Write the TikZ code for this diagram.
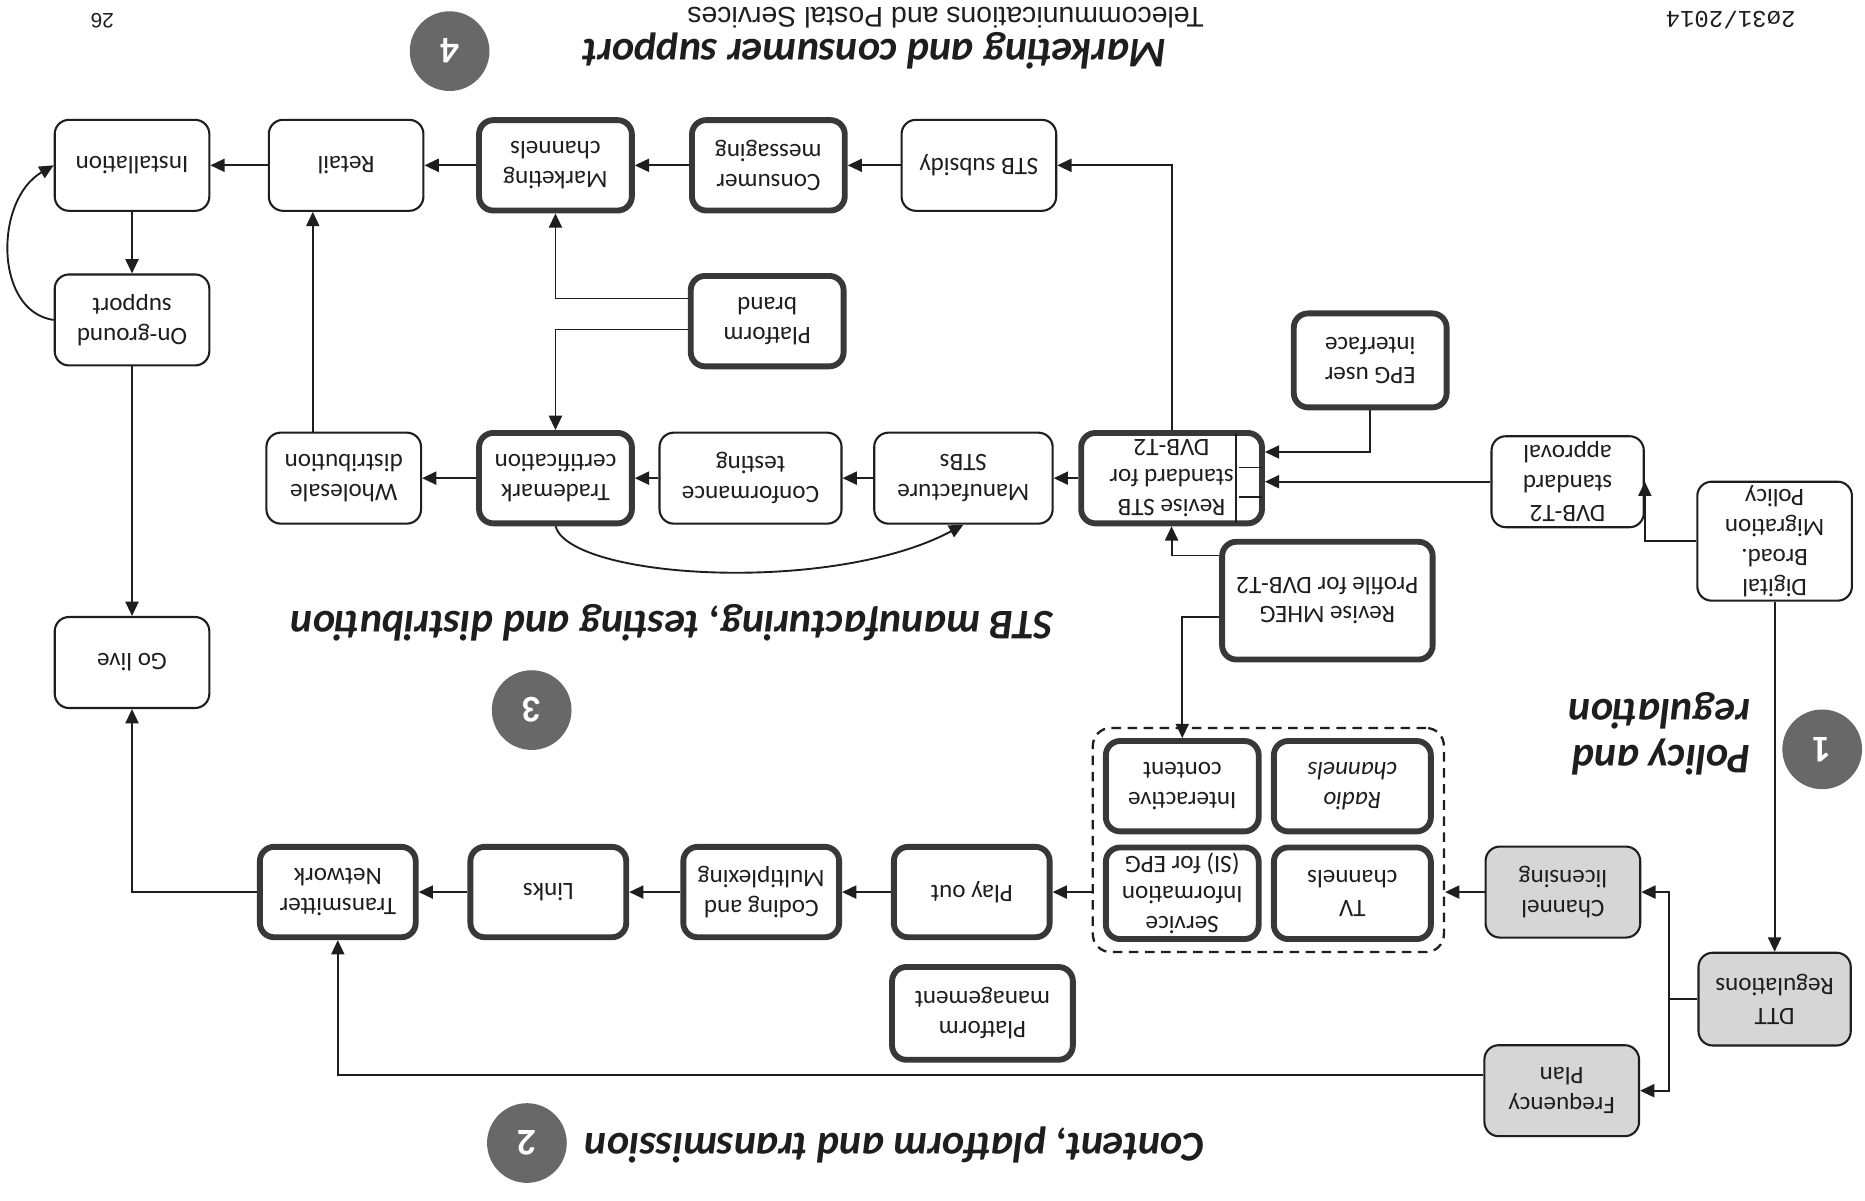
\documentclass[tikz,border=0pt]{standalone}
\usepackage{fontspec}
\setmainfont{Carlito}
\newfontfamily\headfont{Liberation Sans}
\newfontfamily\datefont{Liberation Mono}
\usetikzlibrary{arrows.meta,fit}

\definecolor{ink}{HTML}{1E1E1E}
\definecolor{frame}{HTML}{383838}
\definecolor{shade}{HTML}{D6D6D6}
\definecolor{badgegray}{HTML}{686868}

\tikzset{
  box/.style={draw=ink, line width=1pt, rounded corners=2.4mm, fill=white, text=ink,
    rotate=180, align=center, inner sep=0pt, minimum width=26mm, minimum height=15.3mm,
    font=\fontsize{12}{14.2}\selectfont},
  tbox/.style={box, draw=frame, line width=2.8pt, minimum width=25.7mm, minimum height=15.2mm},
  gbox/.style={box, fill=shade},
  grp/.style={draw=ink, line width=1.1pt, dash pattern=on 1.6mm off 1.1mm, rounded corners=3mm, inner sep=1.7mm},
  badge/.style={circle, fill=badgegray, text=white, rotate=180, minimum size=13.4mm, inner sep=0pt,
    font=\fontsize{18}{18}\selectfont\bfseries},
  stage/.style={rotate=180, text=ink, font=\fontsize{20.2}{22}\selectfont\bfseries\itshape},
  arr/.style={draw=ink, line width=0.9pt, -{Triangle[length=2.4mm,width=2.2mm]}},
  divider/.style={draw=ink, line width=0.8pt, shorten <=1.4pt, shorten >=1.4pt}
}

\begin{document}
\begin{tikzpicture}[x=0.2mm, y=-0.2mm]
% the page is scanned upside down: every node is turned by 180,
% so .north is the lower side and .east the left side of a box
\path[use as bounding box, fill=white] (0,0) rectangle (1568,1009);

% header
\node[rotate=180, text=ink, font=\headfont\fontsize{13.6}{13.6}\selectfont] (hdr) at (795,15) {Telecommunications and Postal Services};
\node[rotate=180, text=ink, font=\headfont\fontsize{10}{10}\selectfont] (pg) at (86,17) {26};
\node[rotate=180, text=ink, font=\datefont\fontsize{11.5}{11.5}\selectfont] (date) at (1455,17) {2\o31/2014};

% stage titles
\node[badge] (n4) at (378,43) {4};
\node[stage] (t4) at (735,43) {Marketing and consumer support};
\node[badge] (n3) at (447,597) {3};
\node[stage] (t3) at (565,524) {STB manufacturing, testing and distribution};
\node[badge] (n2) at (443,961) {2};
\node[stage] (t2) at (752,963) {Content, platform and transmission};
\node[badge] (n1) at (1532,630) {1};
\node[stage, align=left, anchor=west] (t1) at (1478,617) {Policy and\\regulation};

% marketing and consumer support
\node[box] (inst) at (111,139) {Installation};
\node[box] (retail) at (291,139) {Retail};
\node[tbox] (mkt) at (467,139) {Marketing\\channels};
\node[tbox] (msg) at (646,139) {Consumer\\messaging};
\node[box] (subsidy) at (823,139) {STB subsidy};
\node[box] (ground) at (111,269) {On-ground\\support};
\node[tbox] (brand) at (645,270) {Platform\\brand};
\node[tbox, minimum height=15.8mm] (epg) at (1152,303) {EPG user\\interface};

% STB manufacturing, testing and distribution
\node[box] (whole) at (289,402) {Wholesale\\distribution};
\node[tbox] (trade) at (467,402) {Trademark\\certification};
\node[box, minimum width=30.6mm] (conf) at (631,402) {Conformance\\testing};
\node[box, minimum width=30mm] (manu) at (810,402) {Manufacture\\STBs};
\node[tbox, minimum width=30.4mm, minimum height=15.2mm] (rev) at (985,402) {Revise STB\\standard for\\DVB-T2};
\node[tbox, minimum width=35.4mm, minimum height=19.8mm] (mheg) at (1116,505) {Revise MHEG\\Profile for DVB-T2};
\node[box] (golive) at (111,557) {Go live};

% policy and regulation
\node[box, minimum width=25.6mm] (dvbstd) at (1318,405) {DVB-T2\\standard\\approval};
\node[box, minimum height=20mm] (digital) at (1492,455) {Digital\\Broad.\\Migration\\Policy};
\node[gbox, minimum width=25.6mm, minimum height=15.6mm] (dtt) at (1492,840) {DTT\\Regulations};
\node[gbox] (chlic) at (1314,750) {Channel\\licensing};
\node[gbox] (freq) at (1313,917) {Frequency\\Plan};

% content, platform and transmission
\node[tbox, minimum height=15.2mm] (inter) at (994,661) {Interactive\\content};
\node[tbox, minimum width=26.4mm, minimum height=15.2mm] (radio) at (1137,661) {\textit{Radio}\\\textit{channels}};
\node[tbox, minimum height=15.4mm] (si) at (994,751) {Service\\Information\\(SI) for EPG};
\node[tbox, minimum width=26.4mm, minimum height=15.4mm] (tv) at (1137,751) {TV\\channels};
\node[grp, fit=(inter)(radio)(si)(tv)] (grp) {};
\node[tbox, minimum width=26.2mm] (play) at (817,750) {Play out};
\node[tbox, minimum width=26.2mm] (coding) at (640,750) {Coding and\\Multiplexing};
\node[tbox, minimum width=26.2mm] (links) at (461,750) {Links};
\node[tbox, minimum width=26.2mm] (trans) at (284,750) {Transmitter\\Network};
\node[tbox, minimum width=30.4mm, minimum height=15.6mm] (pmgmt) at (826,852) {Platform\\management};

% bends
\coordinate (wr) at (263,300);
\coordinate (pb1) at (467,251);
\coordinate (pb2) at (467,277);
\coordinate (ep) at (1152,380);
\coordinate (mr) at (985,467);
\coordinate (mi) at (994,519);
\coordinate (split) at (1403,840);
\coordinate (fq) at (283,904);
\coordinate (rc1) at (1039,393);
\coordinate (rc2) at (1039,418);

% little column in the STB standard box
\draw[divider] (rev.south -| rc1) -- (rev.north -| rc1);
\draw[divider] (rc1) -- (rc1 -| rev.west);
\draw[divider] (rc2) -- (rc2 -| rev.west);

% connectors
\draw[arr] (subsidy) -- (msg);
\draw[arr] (msg) -- (mkt);
\draw[arr] (mkt) -- (retail);
\draw[arr] (retail) -- (inst);
\draw[arr] (inst) -- (ground);
\draw[arr] (ground.east) .. controls (-5,262) and (-5,168) .. (inst.east);
\draw[arr] (ground) -- (golive);
\draw[arr] (whole.south -| wr) -- (retail.north -| wr);
\draw[arr] (brand.east |- pb1) -| (mkt);
\draw[arr] (brand.east |- pb2) -| (trade);
\draw[arr] (trade.north) .. controls (480,487) and (700,500) .. (manu.north);

\draw[arr] (rev) -- (manu);
\draw[arr] (manu) -- (conf);
\draw[arr] (conf) -- (trade);
\draw[arr] (trade) -- (whole);
\draw[arr] (rev) |- (subsidy);
\draw[arr] (epg) |- (rev.west |- ep);
\draw[arr] (dvbstd) -- (rev.west |- dvbstd);
\draw[arr] (digital) -| (dvbstd.west);
\draw[arr] (mheg.east |- mr) -| (rev);
\draw[arr] (mheg.east |- mi) -| (inter);

\draw[arr] (digital) -- (dtt);
\draw[arr] (dtt) -- (split) |- (chlic);
\draw[arr] (split) |- (freq);
\draw[arr] (chlic) -- (chlic -| grp.east);
\draw[arr] (grp.west |- play) -- (play);
\draw[arr] (play) -- (coding);
\draw[arr] (coding) -- (links);
\draw[arr] (links) -- (trans);
\draw[arr] (trans) -| (golive);
\draw[arr] (freq.east |- fq) -| (trans);
\end{tikzpicture}
\end{document}
